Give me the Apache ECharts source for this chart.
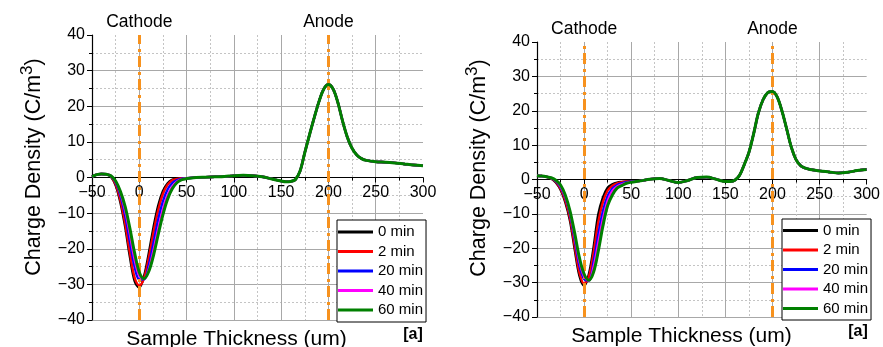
<!DOCTYPE html>
<html><head><meta charset="utf-8">
<script src="https://cdn.jsdelivr.net/npm/echarts@6/dist/echarts.min.js"></script>
<style>html,body{margin:0;padding:0;background:#fff}#c{width:883px;height:347px}</style>
</head><body><div id="c"></div>
<script>
// Sample thickness (um) positions
const thickness = [-50,-45,-40,-35,-30,-25,-20,-15,-10,-5,0,5,10,15,20,25,30,35,40,45,50,
  60,70,80,90,100,110,120,130,140,150,155,160,165,170,175,180,185,190,195,200,
  205,210,215,220,225,230,235,240,250,260,270,280,290,300];
const seriesNames = ['0 min','2 min','20 min','40 min','60 min'];
const seriesColors = ['#000000','#ff0000','#0000ff','#ff00ff','#008000'];
const xTicks = [-50,0,50,100,150,200,250,300];
const yTicks = [-40,-30,-20,-10,0,10,20,30,40];
const electrodeX = [0, 200];
const electrodeNames = ['Cathode','Anode'];

// Panel A: cathode region (-50..50) per time, shared tail (60..300)
const aDip0  = [0.2,0.8,1.0,0.9,0.2,-2.2,-7.0,-13.8,-22.2,-29.0,-30.9,-27.7,-21.3,-14.0,-7.9,-3.8,-1.6,-0.6,-0.3,-0.2,-0.2];
const aDip2  = [0.2,0.8,1.0,0.9,0.3,-1.9,-6.3,-12.8,-21.0,-28.0,-30.3,-28.3,-22.6,-15.5,-9.2,-4.6,-2.0,-0.8,-0.4,-0.2,-0.2];
const aDip20 = [0.2,0.8,1.0,0.9,0.4,-1.4,-5.0,-10.6,-18.0,-25.0,-28.6,-28.6,-24.6,-18.3,-11.8,-6.7,-3.3,-1.5,-0.7,-0.3,-0.2];
const aDip40 = [0.2,0.8,1.0,0.9,0.5,-1.1,-4.3,-9.2,-15.8,-23.0,-27.6,-28.5,-25.8,-20.5,-14.3,-8.9,-4.9,-2.5,-1.1,-0.5,-0.2];
const aDip60 = [0.2,0.8,1.0,0.9,0.5,-1.0,-3.9,-8.1,-14.2,-21.1,-26.6,-28.4,-26.4,-21.9,-16.0,-10.4,-6.0,-3.1,-1.4,-0.6,-0.3];
const aTail  = [0.0,0.1,0.2,0.3,0.5,0.6,0.5,0.2,-0.4,-1.0,-1.2,-1.1,-0.6,1.8,7.0,12.0,16.8,21.3,24.8,26.1,
  24.8,21.0,15.8,11.3,8.2,6.3,5.3,4.8,4.4,4.3,4.1,3.8,3.5,3.3];

// Panel B
const bDip0  = [1.1,1.0,0.8,0.3,-0.9,-3.0,-6.6,-12.0,-20.3,-28.0,-30.9,-27.6,-19.8,-10.2,-5.2,-2.4,-1.4,-0.9,-0.7,-0.6,-0.5];
const bDip2  = [1.1,1.0,0.8,0.3,-0.7,-2.7,-6.1,-11.2,-19.3,-27.0,-30.3,-28.4,-21.5,-12.5,-6.6,-3.2,-1.8,-1.1,-0.8,-0.6,-0.5];
const bDip20 = [1.1,1.0,0.8,0.4,-0.5,-2.2,-5.3,-10.0,-17.5,-25.0,-29.0,-29.4,-24.0,-16.0,-9.2,-4.8,-2.6,-1.6,-1.1,-0.8,-0.6];
const bDip40 = [1.1,1.0,0.8,0.4,-0.3,-1.9,-4.9,-9.5,-16.5,-23.8,-28.2,-29.4,-25.5,-18.5,-11.5,-6.2,-3.3,-2.0,-1.4,-1.0,-0.7];
const bDip60 = [1.1,1.0,0.8,0.5,-0.2,-1.6,-4.5,-9.1,-15.6,-22.7,-27.5,-29.3,-27.0,-20.9,-13.5,-7.6,-4.5,-2.5,-1.8,-1.1,-0.8];
const bTail  = [-0.4,0.1,0.3,-0.3,-0.9,-0.3,0.6,0.7,0.1,-0.6,-0.6,-0.2,1.2,4.3,7.9,13.3,19.3,23.2,25.3,25.6,
  24.0,20.0,14.8,9.4,5.8,4.0,3.3,2.9,2.5,2.2,1.9,2.1,2.6,2.9];

const aDips = [aDip0,aDip2,aDip20,aDip40,aDip60];
const bDips = [bDip0,bDip2,bDip20,bDip40,bDip60];

const FONT = 'Arial, "Liberation Sans", sans-serif';
const minus = v => String(v).replace('-', '\u2212');

function pairs(vals){ return thickness.map((x,i)=>[x, vals[i]]); }

function axes(gi){
  return {
    x: {
      type:'value', gridIndex:gi, min:-50, max:300, interval:50, position:'bottom',
      axisLine:{show:true, onZero:false, lineStyle:{color:'#000', width:1.2}},
      axisTick:{show:true, length:5, lineStyle:{color:'#000'}},
      minorTick:{show:true, splitNumber:2, length:3, lineStyle:{color:'#000'}},
      axisLabel:{fontSize:16, color:'#000', margin:7, fontFamily:FONT, showMinLabel:true, showMaxLabel:true,
        formatter: v => xTicks.includes(v) ? minus(v) : ''},
      splitLine:{show:true, showMaxLine:false, lineStyle:{color:'#a8a8a8', width:1}},
      minorSplitLine:{show:true, lineStyle:{color:'#c4c4c4', type:[2,2], width:1}}
    },
    y: {
      type:'value', gridIndex:gi, min:-40, max:40, interval:10,
      axisLine:{show:true, onZero:false, lineStyle:{color:'#000', width:1.2}},
      axisTick:{show:true, length:5, lineStyle:{color:'#000'}},
      minorTick:{show:true, splitNumber:2, length:3, lineStyle:{color:'#000'}},
      axisLabel:{fontSize:16, color:'#000', margin:7, fontFamily:FONT,
        formatter: v => yTicks.includes(v) ? minus(v) : ''},
      splitLine:{show:true, showMaxLine:false, lineStyle:{color:'#a8a8a8', width:1}},
      minorSplitLine:{show:true, lineStyle:{color:'#c4c4c4', type:[2,2], width:1}}
    }
  };
}

const A = axes(0), B = axes(1);

function panelSeries(dips, tail, gi){
  return seriesNames.map((n,i)=>{
    const s = {
      name:n, type:'line', xAxisIndex:gi, yAxisIndex:gi,
      data: pairs(dips[i].concat(tail)), smooth:0.35, symbol:'none',
      lineStyle:{color:seriesColors[i], width: i===4 ? 3 : 2.4},
      itemStyle:{color:seriesColors[i]}, z: 2+i, animation:false
    };
    if(i===4){
      s.markLine = {
        silent:true, symbol:['none','none'], animation:false,
        lineStyle:{color:'#f7921e', width:3, type:[11,4,3,5]},
        label:{show:true, position:'end', distance:4, color:'#000', fontSize:17.5, fontFamily:FONT,
          formatter: p => electrodeNames[electrodeX.indexOf(p.value)]},
        data: electrodeX.map(x=>({xAxis:x}))
      };
    }
    return s;
  });
}

function legendFor(left, top, pad){
  return {
    data: seriesNames, orient:'vertical', left:left, top:top,
    itemWidth:35, itemHeight:3, icon:'rect', itemGap:4.5,
    padding:[pad,3,pad,1], borderColor:'#000', borderWidth:1, backgroundColor:'#fff',
    textStyle:{fontSize:15, color:'#000', fontFamily:FONT, lineHeight:15},
    selectedMode:false
  };
}

function yName(x,y){
  return {type:'text', x:x, y:y, rotation:Math.PI/2, style:{
    text:'{a|Charge Density (C/m}{s|3}{a|)}', textAlign:'center', textVerticalAlign:'middle',
    rich:{a:{fontSize:21.5, fontFamily:FONT, fill:'#000', lineHeight:26, verticalAlign:'bottom'},
          s:{fontSize:17, fontFamily:FONT, fill:'#000', verticalAlign:'top', lineHeight:26}}
  }};
}
function plainText(x,y,t,size,weight){
  return {type:'text', x:x, y:y, style:{text:t, fontSize:size, fontWeight:weight||'normal',
    fontFamily:FONT, fill:'#000', textAlign:'center', textVerticalAlign:'middle'}};
}

const chart = echarts.init(document.getElementById('c'), null, {renderer:'canvas'});
chart.setOption({
  animation:false,
  backgroundColor:'#fff',
  grid:[
    {left:92, top:35, width:331, height:285},
    {left:537, top:42, width:331, height:275}
  ],
  xAxis:[A.x, B.x],
  yAxis:[A.y, B.y],
  legend:[legendFor(337, 220, 4.5), legendFor(782, 219, 4)],
  series: panelSeries(aDips, aTail, 0).concat(panelSeries(bDips, bTail, 1)),
  graphic:[
    yName(32,167), yName(477,168),
    plainText(236.5,339,'Sample Thickness (um)',21),
    plainText(681.5,336,'Sample Thickness (um)',21),
    plainText(413,335,'[a]',16,'bold'),
    plainText(858,332,'[a]',16,'bold')
  ]
});
// Move each x axis up to the y = 0 level, measured through the library's own y scale.
const offsets = [0,1].map(gi => {
  const zeroPx = chart.convertToPixel({yAxisIndex:gi}, 0);
  const minPx = chart.convertToPixel({yAxisIndex:gi}, -40);
  return zeroPx - minPx;
});
chart.setOption({xAxis:[{offset:offsets[0]},{offset:offsets[1]}]});
</script></body></html>
